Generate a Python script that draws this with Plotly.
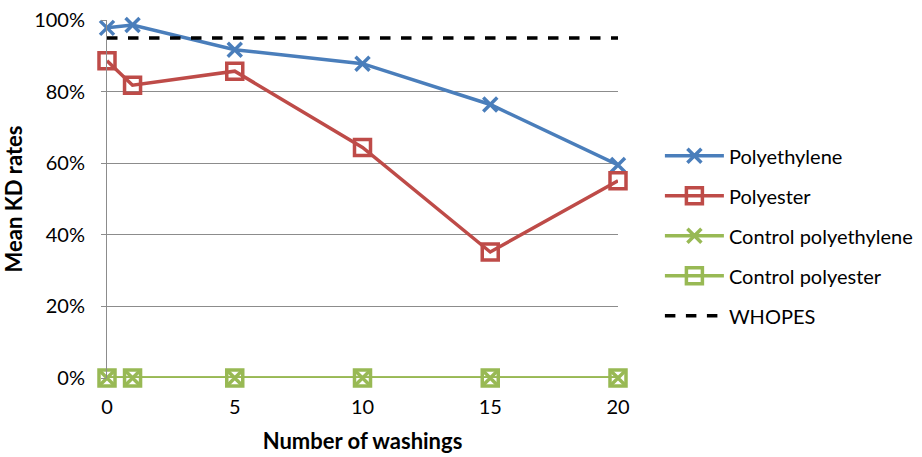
import plotly.graph_objects as go

washings = [0, 1, 5, 10, 15, 20]
polyethylene = [0.978, 0.986, 0.917, 0.878, 0.764, 0.595]
polyester = [0.886, 0.818, 0.857, 0.644, 0.352, 0.551]
control_polyethylene = [0, 0, 0, 0, 0, 0]
control_polyester = [0, 0, 0, 0, 0, 0]
whopes_x = [0, 20]
whopes = [0.95, 0.95]

BLUE = "#4A7EBB"
RED = "#BE4B48"
GREEN = "#98B954"
GRID = "#8C8C8C"
FONT = "Lato"

fig = go.Figure()


def add_series(name, x, y, color, symbol, size, group):
    fig.add_trace(go.Scatter(
        x=x, y=y, name=name, mode="lines+markers",
        line=dict(color=color, width=3.5),
        marker=dict(symbol=symbol, size=size, color=color,
                    line=dict(color=color, width=3.5)),
        cliponaxis=False, legendgroup=group,
    ))


add_series("Polyethylene", washings, polyethylene, BLUE, "x-thin", 14, "a")
add_series("Polyester", washings, polyester, RED, "square-open", 16, "b")
add_series("Control polyethylene", washings, control_polyethylene, GREEN, "x-thin", 14, "c")
add_series("Control polyester", washings, control_polyester, GREEN, "square-open", 16, "d")

fig.add_trace(go.Scatter(
    x=whopes_x, y=whopes, name="WHOPES", mode="lines",
    line=dict(color="black", width=3.5, dash="dash"),
    cliponaxis=False, legendgroup="e",
))

fig.update_layout(
    width=922, height=457,
    margin=dict(l=107, r=304, t=20, b=79, autoexpand=False),
    paper_bgcolor="white", plot_bgcolor="white",
    font=dict(family=FONT, size=20, color="black"),
    xaxis=dict(
        range=[0, 20], tickvals=[0, 5, 10, 15, 20], automargin=False,
        showgrid=False, zeroline=False, showline=False,
        ticks="", ticklen=0, ticklabelstandoff=15,
        title=dict(text="<b>Number of washings</b>", font=dict(size=22), standoff=16),
        tickfont=dict(size=20),
    ),
    yaxis=dict(
        range=[0, 1], tickvals=[0, 0.2, 0.4, 0.6, 0.8, 1.0], tickformat=".0%",
        automargin=False,
        showgrid=True, gridcolor=GRID, gridwidth=1,
        zeroline=False, showline=True, linecolor=GRID, linewidth=1,
        ticks="outside", ticklen=5, tickcolor=GRID, ticklabelstandoff=12,
        title=dict(text="<b>Mean KD rates</b>", font=dict(size=22), standoff=8),
        tickfont=dict(size=20),
    ),
    legend=dict(
        x=1.082, y=0.675, xanchor="left", yanchor="top",
        traceorder="grouped", tracegroupgap=11, itemwidth=59,
        font=dict(size=20), bgcolor="rgba(0,0,0,0)",
    ),
    showlegend=True,
)

fig.write_html("out.html")
